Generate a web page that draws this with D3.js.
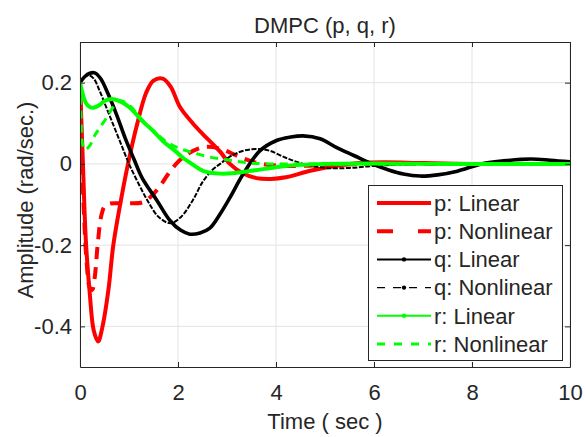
<!DOCTYPE html>
<html>
<head>
<meta charset="utf-8">
<script src="https://cdn.jsdelivr.net/npm/d3@7"></script>
<style>
  html, body { margin: 0; padding: 0; background: #fff; }
  svg text { font-family: "Liberation Sans", Arial, Helvetica, sans-serif; fill: #262626; }
</style>
</head>
<body>
<svg id="chart" width="586" height="437"></svg>
<script>
// ---------- data ----------
const titleText = "DMPC (p, q, r)";
const xLabelText = "Time ( sec )";
const yLabelText = "Amplitude (rad/sec.)";

const xTicks = [0, 2, 4, 6, 8, 10];
const xTickLabels = ["0", "2", "4", "6", "8", "10"];
const yTicks = [-0.4, -0.2, 0, 0.2];
const yTickLabels = ["-0.4", "-0.2", "0", "0.2"];

const seriesNames = ["p: Linear", "p: Nonlinear", "q: Linear", "q: Nonlinear", "r: Linear", "r: Nonlinear"];

const pLinearT = [0, 0.03, 0.06, 0.12, 0.2, 0.28, 0.37, 0.46, 0.58, 0.68, 0.85, 0.98, 1.15, 1.35, 1.5, 1.69, 1.85, 2.04, 2.3, 2.5, 2.7, 2.86, 3.06, 3.3, 3.6, 3.9, 4.2, 4.7, 5.2, 5.7, 6.2, 7, 8, 9, 10];
const pLinearV = [0.2, 0.1, 0.0, -0.19, -0.32, -0.41, -0.437, -0.40, -0.31, -0.2, -0.08, 0.0, 0.09, 0.175, 0.205, 0.21, 0.19, 0.14, 0.1, 0.074, 0.05, 0.03, 0.0, -0.022, -0.035, -0.037, -0.033, -0.017, -0.005, 0.002, 0.004, 0.002, 0, 0, 0];

const pNonlinT = [0, 0.03, 0.08, 0.14, 0.2, 0.25, 0.3, 0.36, 0.43, 0.5, 0.6, 0.8, 1.0, 1.27, 1.45, 1.63, 1.8, 2.0, 2.2, 2.4, 2.6, 2.9, 3.2, 3.6, 4.0, 4.5, 5, 6, 7, 8, 9, 10];
const pNonlinV = [0.2, 0.05, -0.12, -0.25, -0.305, -0.31, -0.28, -0.2, -0.13, -0.105, -0.098, -0.097, -0.097, -0.095, -0.08, -0.055, -0.025, 0.005, 0.025, 0.037, 0.042, 0.036, 0.02, 0.003, -0.004, -0.005, -0.003, 0, 0, 0, 0, 0];

const qLinearT = [0, 0.1, 0.2, 0.3, 0.42, 0.57, 0.75, 0.92, 1.1, 1.27, 1.57, 1.84, 2.05, 2.24, 2.45, 2.65, 2.85, 3.06, 3.33, 3.67, 4.0, 4.3, 4.55, 4.9, 5.24, 5.6, 5.92, 6.3, 6.6, 6.94, 7.3, 7.7, 8.2, 8.7, 9.2, 9.6, 10];
const qLinearV = [0.2, 0.215, 0.223, 0.224, 0.21, 0.173, 0.12, 0.064, 0.012, -0.035, -0.09, -0.14, -0.163, -0.173, -0.17, -0.158, -0.125, -0.083, -0.025, 0.032, 0.057, 0.066, 0.069, 0.062, 0.04, 0.02, 0.002, -0.015, -0.025, -0.03, -0.027, -0.018, 0, 0.008, 0.012, 0.009, 0.005];

const qNonlinT = [0, 0.08, 0.18, 0.28, 0.4, 0.55, 0.7, 0.85, 1.0, 1.2, 1.4, 1.6, 1.84, 2.05, 2.3, 2.5, 2.7, 2.86, 3.05, 3.27, 3.5, 3.7, 3.88, 4.2, 4.55, 5.0, 5.5, 6.0, 7, 8, 9, 10];
const qNonlinV = [0.2, 0.213, 0.218, 0.21, 0.18, 0.135, 0.09, 0.045, 0.0, -0.05, -0.095, -0.13, -0.146, -0.132, -0.09, -0.045, -0.015, 0.0, 0.017, 0.03, 0.036, 0.036, 0.032, 0.015, 0.0, -0.01, -0.01, -0.005, 0, 0, 0, 0];

const rLinearT = [0, 0.05, 0.12, 0.2, 0.27, 0.4, 0.5, 0.65, 0.8, 1.0, 1.27, 1.5, 1.7, 1.94, 2.1, 2.28, 2.51, 2.86, 3.2, 3.5, 3.9, 4.2, 4.6, 5, 6, 7, 8, 9, 10];
const rLinearV = [0.2, 0.175, 0.15, 0.14, 0.138, 0.145, 0.155, 0.16, 0.155, 0.14, 0.106, 0.08, 0.055, 0.032, 0.015, 0.0, -0.017, -0.024, -0.022, -0.017, -0.01, -0.005, -0.002, 0, 0.001, 0, 0, 0, 0];

const rNonlinT = [0, 0.02, 0.05, 0.1, 0.2, 0.3, 0.41, 0.55, 0.68, 0.82, 1.0, 1.27, 1.5, 1.7, 1.9, 2.1, 2.3, 2.6, 3.0, 3.4, 3.8, 4.5, 5, 6, 7, 8, 9, 10];
const rNonlinV = [0.2, 0.12, 0.05, 0.035, 0.045, 0.07, 0.09, 0.115, 0.14, 0.155, 0.145, 0.108, 0.082, 0.06, 0.045, 0.035, 0.028, 0.018, 0.01, 0.003, 0, 0, 0, 0, 0, 0, 0, 0];

// ---------- layout ----------
const W = 586, H = 437;
const plot = { left: 80, top: 42, right: 570, bottom: 367 };

const svg = d3.select("#chart");
const x = d3.scaleLinear().domain([0, 10]).range([plot.left, plot.right]);
const y = d3.scaleLinear().domain([-0.5, 0.3]).range([plot.bottom, plot.top]);

const axisColor = "#262626";
const gridColor = "#e3e3e3";
const FS = 22;

// grid
const grid = svg.append("g");
grid.selectAll("line.gx").data(xTicks).join("line")
  .attr("x1", d => x(d)).attr("x2", d => x(d))
  .attr("y1", plot.top).attr("y2", plot.bottom)
  .attr("stroke", gridColor).attr("stroke-width", 1);
grid.selectAll("line.gy").data(yTicks).join("line")
  .attr("x1", plot.left).attr("x2", plot.right)
  .attr("y1", d => y(d)).attr("y2", d => y(d))
  .attr("stroke", gridColor).attr("stroke-width", 1);

// clip
svg.append("clipPath").attr("id", "clip").append("rect")
  .attr("x", plot.left).attr("y", plot.top)
  .attr("width", plot.right - plot.left).attr("height", plot.bottom - plot.top);

const zip = (t, v) => t.map((tt, i) => [tt, v[i]]);
const line = d3.line().x(d => x(d[0])).y(d => y(d[1])).curve(d3.curveCatmullRom.alpha(0.5));

const series = [
  { name: seriesNames[0], data: zip(pLinearT, pLinearV), color: "#ff0000", width: 4, dash: null, lw: 4, ldash: null, marker: false },
  { name: seriesNames[1], data: zip(pNonlinT, pNonlinV), color: "#ff0000", width: 4, dash: "12,8", lw: 4, ldash: "16,25", marker: false },
  { name: seriesNames[2], data: zip(qLinearT, qLinearV), color: "#000000", width: 3.6, dash: null, lw: 2, ldash: null, marker: true },
  { name: seriesNames[3], data: zip(qNonlinT, qNonlinV), color: "#000000", width: 2, dash: "5,1.5", lw: 1.3, ldash: "8,8", marker: true },
  { name: seriesNames[4], data: zip(rLinearT, rLinearV), color: "#00ff00", width: 4, dash: null, lw: 2, ldash: null, marker: true },
  { name: seriesNames[5], data: zip(rNonlinT, rNonlinV), color: "#00ff00", width: 3, dash: "8,6", lw: 3, ldash: "8,9", marker: false }
];

const lines = svg.append("g").attr("clip-path", "url(#clip)");
lines.selectAll("path").data(series).join("path")
  .attr("d", d => line(d.data))
  .attr("fill", "none")
  .attr("stroke", d => d.color)
  .attr("stroke-width", d => d.width)
  .attr("stroke-dasharray", d => d.dash)
  .attr("stroke-linejoin", "round");

// axes
const xAxisB = d3.axisBottom(x).tickValues(xTicks).tickFormat((d, i) => xTickLabels[i]).tickSizeInner(-5).tickSizeOuter(0).tickPadding(17);
const xAxisT = d3.axisTop(x).tickValues(xTicks).tickFormat("").tickSizeInner(-5).tickSizeOuter(0);
const yAxisL = d3.axisLeft(y).tickValues(yTicks).tickFormat((d, i) => yTickLabels[i]).tickSizeInner(-5).tickSizeOuter(0).tickPadding(8);
const yAxisR = d3.axisRight(y).tickValues(yTicks).tickFormat("").tickSizeInner(-5).tickSizeOuter(0);

function styleAxis(g) {
  g.select(".domain").attr("stroke", axisColor).attr("stroke-width", 1);
  g.selectAll(".tick line").attr("stroke", axisColor).attr("stroke-width", 1);
  g.selectAll(".tick text").attr("fill", axisColor).style("font-size", FS + "px")
    .style("font-family", '"Liberation Sans", Arial, sans-serif');
}
svg.append("g").attr("transform", `translate(0,${plot.bottom})`).call(xAxisB).call(styleAxis);
svg.append("g").attr("transform", `translate(0,${plot.top})`).call(xAxisT).call(styleAxis);
svg.append("g").attr("transform", `translate(${plot.left},0)`).call(yAxisL).call(styleAxis);
svg.append("g").attr("transform", `translate(${plot.right},0)`).call(yAxisR).call(styleAxis);

// title & labels
svg.append("text").attr("x", (plot.left + plot.right) / 2).attr("y", 33)
  .attr("text-anchor", "middle").style("font-size", FS + "px").text(titleText);
svg.append("text").attr("x", (plot.left + plot.right) / 2).attr("y", 429)
  .attr("text-anchor", "middle").style("font-size", FS + "px").text(xLabelText);
svg.append("text").attr("transform", "translate(33,200) rotate(-90)")
  .attr("text-anchor", "middle").style("font-size", FS + "px").text(yLabelText);

// legend
const leg = { x: 368, y: 185, w: 194, h: 175, rowY0: 203, rowDy: 28.2, lx1: 377, lx2: 431, tx: 434 };
const lg = svg.append("g");
lg.append("rect").attr("x", leg.x + 0.5).attr("y", leg.y + 0.5).attr("width", leg.w).attr("height", leg.h)
  .attr("fill", "#fff").attr("stroke", axisColor).attr("stroke-width", 1);
const items = lg.selectAll("g.item").data(series).join("g")
  .attr("transform", (d, i) => `translate(0,${leg.rowY0 + i * leg.rowDy})`);
items.append("line").attr("x1", leg.lx1).attr("x2", leg.lx2).attr("y1", 0).attr("y2", 0)
  .attr("stroke", d => d.color).attr("stroke-width", d => d.lw).attr("stroke-dasharray", d => d.ldash);
items.filter(d => d.marker).append("circle").attr("cx", (leg.lx1 + leg.lx2) / 2).attr("cy", 0).attr("r", 2.2)
  .attr("fill", d => d.color);
items.append("text").attr("x", leg.tx).attr("y", 0).attr("dy", "0.35em")
  .style("font-size", FS + "px").text(d => d.name);
</script>
</body>
</html>
